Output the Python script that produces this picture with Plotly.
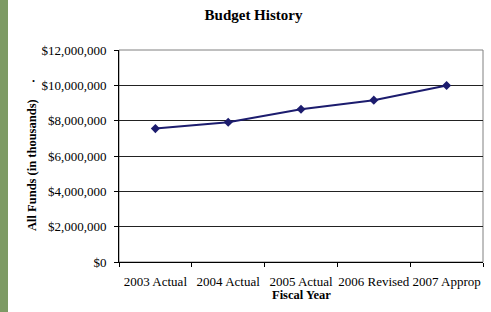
import plotly.graph_objects as go

categories = ["2003 Actual", "2004 Actual", "2005 Actual", "2006 Revised", "2007 Approp"]
values = [7550000, 7910000, 8650000, 9160000, 9990000]
y_ticks = [0, 2000000, 4000000, 6000000, 8000000, 10000000, 12000000]
y_tick_labels = ["$0", "$2,000,000", "$4,000,000", "$6,000,000", "$8,000,000", "$10,000,000", "$12,000,000"]

W, H = 491, 312
L, R, T, B = 119, 8, 50, 50
pw, ph = W - L - R, H - T - B

def px_x(p):
    return (p - L) / pw

def px_y(p):
    return (H - B - p) / ph

FONT = "Liberation Serif, Times New Roman, serif"

fig = go.Figure()
fig.add_trace(go.Scatter(
    x=categories, y=values, mode="lines+markers",
    line=dict(color="#1c1c6e", width=2),
    marker=dict(symbol="diamond", size=7, color="#1c1c6e"),
    showlegend=False, hoverinfo="skip",
))

fig.update_layout(
    width=W, height=H,
    margin=dict(l=L, r=R, t=T, b=B, autoexpand=False),
    paper_bgcolor="white", plot_bgcolor="white",
    font=dict(family=FONT, size=13, color="black"),
    title=dict(text="<b>Budget History</b>", x=253.5 / W, xanchor="center",
               y=1 - 15 / H, yanchor="middle",
               font=dict(family=FONT, size=15, color="black")),
    xaxis=dict(
        type="category", range=[-0.5, 4.5], tickson="boundaries",
        showgrid=False, showline=True, linecolor="black", linewidth=1,
        ticks="outside", ticklen=4, tickcolor="black",
        tickangle=0, automargin=False,
        ticklabelstandoff=7,
        tickfont=dict(family=FONT, size=13, color="black"),
        zeroline=False,
    ),
    yaxis=dict(
        range=[0, 12000000], tickvals=y_ticks, ticktext=y_tick_labels,
        showgrid=True, gridcolor="#222222", gridwidth=1,
        showline=True, linecolor="black", linewidth=1,
        ticks="outside", ticklen=4, tickcolor="black",
        automargin=False,
        ticklabelstandoff=5,
        tickfont=dict(family=FONT, size=13, color="black"),
        zeroline=False,
    ),
    shapes=[
        dict(type="rect", xref="paper", yref="paper", x0=0, x1=1, y0=0, y1=1,
             line=dict(color="#808080", width=1), layer="below"),
        dict(type="rect", xref="paper", yref="paper", x0=px_x(-5), x1=px_x(8),
             y0=px_y(H + 5), y1=px_y(-5), line=dict(width=0),
             fillcolor="#7d9a64", layer="below"),
    ],
    annotations=[
        dict(text="<b>All Funds (in thousands)</b>", textangle=-90,
             xref="paper", yref="paper", x=px_x(32), y=px_y(165),
             xanchor="center", yanchor="middle", showarrow=False,
             font=dict(family=FONT, size=12.5, color="black")),
        dict(text="<b>Fiscal Year</b>", xref="paper", yref="paper",
             x=0.5, y=px_y(295), xanchor="center", yanchor="middle",
             showarrow=False, font=dict(family=FONT, size=12.5, color="black")),
        dict(text="<b>.</b>", xref="paper", yref="paper",
             x=px_x(33.5), y=px_y(78), xanchor="center", yanchor="middle",
             showarrow=False, font=dict(family=FONT, size=12, color="black")),
    ],
)

fig.write_html(
    "out.html",
    config={"displayModeBar": False},
    post_script="document.body.style.margin='0';document.body.style.overflow='hidden';",
)
